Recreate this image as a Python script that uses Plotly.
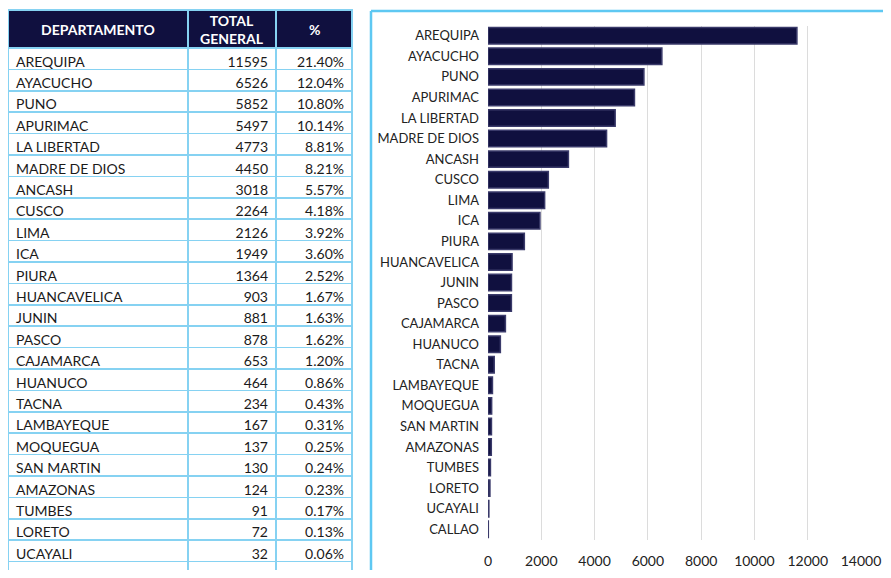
import plotly.graph_objects as go

departamentos = ["AREQUIPA", "AYACUCHO", "PUNO", "APURIMAC", "LA LIBERTAD", "MADRE DE DIOS",
                 "ANCASH", "CUSCO", "LIMA", "ICA", "PIURA", "HUANCAVELICA", "JUNIN", "PASCO",
                 "CAJAMARCA", "HUANUCO", "TACNA", "LAMBAYEQUE", "MOQUEGUA", "SAN MARTIN",
                 "AMAZONAS", "TUMBES", "LORETO", "UCAYALI", "CALLAO"]
total_general = [11595, 6526, 5852, 5497, 4773, 4450, 3018, 2264, 2126, 1949, 1364, 903, 881,
                 878, 653, 464, 234, 167, 137, 130, 124, 91, 72, 32, 12]
porcentaje = ["21.40%", "12.04%", "10.80%", "10.14%", "8.81%", "8.21%", "5.57%", "4.18%",
              "3.92%", "3.60%", "2.52%", "1.67%", "1.63%", "1.62%", "1.20%", "0.86%", "0.43%",
              "0.31%", "0.25%", "0.24%", "0.23%", "0.17%", "0.13%", "0.06%", "0.02%"]
encabezados = ["<b>DEPARTAMENTO</b>", "<b>TOTAL<br>GENERAL</b>", "<b>%</b>"]
x_ticks = [0, 2000, 4000, 6000, 8000, 10000, 12000, 14000]

# the page adds an 8px body margin, so the figure is sized to fit inside the window
W, H = 875, 562
navy = "#10103f"
celeste = "#86d2f2"
fnt = "Lato, 'Open Sans', sans-serif"

# column edges of the table, in figure pixels
col_edges = [0, 180, 268, 344]
header_top, header_bot = 2, 40

tabla = go.Table(
    domain=dict(x=[col_edges[0] / W, col_edges[-1] / W], y=[0, 1 - header_top / H]),
    columnwidth=[col_edges[i + 1] - col_edges[i] for i in range(3)],
    header=dict(values=["", "", ""], height=header_bot - header_top,
                fill_color=navy, line_color=celeste, line_width=1.5),
    cells=dict(
        values=[departamentos, total_general, porcentaje],
        fill_color="white", line_color=celeste, line_width=1.5,
        font=dict(color="#1a1a1a", size=14, family=fnt),
        align=["left", "right", "right"], height=21.4,
    ),
)

barras = go.Bar(
    x=total_general, y=departamentos, orientation="h",
    marker=dict(color=navy, line=dict(color="#3a3a6a", width=1.5)),
    xaxis="x", yaxis="y", showlegend=False,
)

# light blue frame around the chart (its right and bottom sides fall outside the view)
shapes = [
    dict(type="line", xref="paper", yref="paper", x0=363 / W, x1=363 / W, y0=0, y1=1 - 3 / H,
         line=dict(color="#5ec8f2", width=2.5)),
    dict(type="line", xref="paper", yref="paper", x0=363 / W, x1=1, y0=1 - 3 / H, y1=1 - 3 / H,
         line=dict(color="#5ec8f2", width=2.5)),
]

annotations = []
for i, txt in enumerate(encabezados):
    annotations.append(dict(
        text=txt, xref="paper", yref="paper",
        x=(col_edges[i] + col_edges[i + 1]) / 2 / W,
        y=1 - (header_top + header_bot) / 2 / H,
        showarrow=False, xanchor="center", yanchor="middle",
        font=dict(color="white", size=14, family=fnt)))

fig = go.Figure(data=[tabla, barras])
fig.update_layout(
    width=W, height=H,
    margin=dict(l=0, r=0, t=0, b=0, autoexpand=False),
    paper_bgcolor="white", plot_bgcolor="white",
    font=dict(family=fnt, color="#222222", size=13),
    bargap=0.2,
    xaxis=dict(domain=[480 / W, 853 / W], range=[0, 14000], tickvals=x_ticks,
               ticktext=[str(v) for v in x_ticks], automargin=False,
               showgrid=True, gridcolor="#dcdcdc", gridwidth=1, zeroline=False,
               showline=False, ticks="", ticklabelstandoff=11,
               tickfont=dict(size=14), anchor="y"),
    yaxis=dict(domain=[1 - 531.5 / H, 1 - 17.5 / H], autorange="reversed", automargin=False,
               showgrid=False, showline=False, ticks="", ticklabelstandoff=8,
               tickfont=dict(size=13), anchor="x"),
    shapes=shapes,
    annotations=annotations,
)

fig.write_html("out.html")
